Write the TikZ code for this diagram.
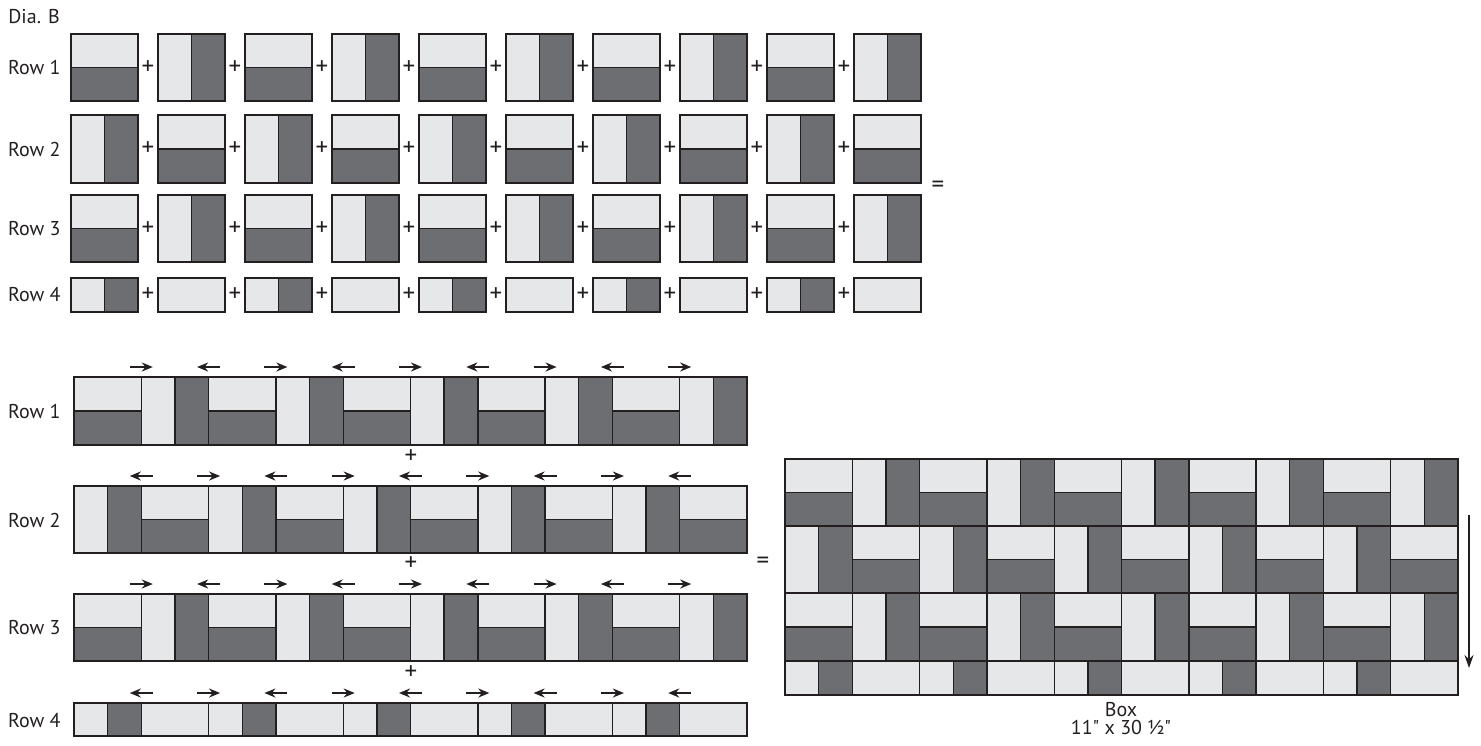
\documentclass[tikz,border=0pt]{standalone}
\usepackage{fontspec}
\newfontfamily\labelfont{PT Sans}
\usepackage{xcolor}
\usepackage{tikz}
\usetikzlibrary{arrows.meta}

\definecolor{patlight}{HTML}{E6E7E8}
\definecolor{patdark}{HTML}{6D6E71}
\definecolor{patline}{HTML}{231F20}

% x, y, width, height
\newcommand{\hblk}[4]{%
  \draw[lightsq] (#1,#2) rectangle ++(#3,#4/2);
  \draw[darksq] (#1,#2+#4/2) rectangle ++(#3,#4/2);}
\newcommand{\vblk}[4]{%
  \draw[lightsq] (#1,#2) rectangle ++(#3/2,#4);
  \draw[darksq] (#1+#3/2,#2) rectangle ++(#3/2,#4);}
\newcommand{\pblk}[4]{%
  \draw[lightsq] (#1,#2) rectangle ++(#3,#4);}
% x0, y0, step, width, height, kind (1 = rows 1/3, 2 = row 2, 3 = row 4)
\newcommand{\quiltrow}[6]{%
  \foreach \i in {0,...,9}{%
    \pgfmathsetmacro{\bx}{#1+#3*\i}%
    \ifcase#6\or
      \ifodd\i \vblk{\bx}{#2}{#4}{#5}\else \hblk{\bx}{#2}{#4}{#5}\fi
    \or
      \ifodd\i \hblk{\bx}{#2}{#4}{#5}\else \vblk{\bx}{#2}{#4}{#5}\fi
    \or
      \ifodd\i \pblk{\bx}{#2}{#4}{#5}\else \vblk{\bx}{#2}{#4}{#5}\fi
    \fi}}

\begin{document}
\begin{tikzpicture}[
  x=0.5pt, y=-0.5pt,
  lightsq/.style={fill=patlight, draw=patline, line width=0.7pt},
  darksq/.style={fill=patdark, draw=patline, line width=0.7pt},
  lbl/.style={font=\labelfont\fontsize{10}{12}\selectfont, inner sep=0pt, text=patline},
  sign/.style={font=\labelfont\fontsize{12.5}{14}\selectfont, inner sep=0pt, text=patline},
  press/.style={-{Stealth[length=5.5pt,width=4.5pt]}, line width=0.9pt, draw=patline},
  grain/.style={-{Stealth[length=6.5pt,width=4.5pt]}, line width=0.6pt, draw=patline}
]
\useasboundingbox (0,0) rectangle (1481,745);

\node[lbl, anchor=west] (dia) at (8,17) {Dia. B};

\quiltrow{71}{34}{87}{67}{67}{1}
\quiltrow{71}{115}{87}{67}{68}{2}
\quiltrow{71}{195}{87}{67}{67}{1}
\quiltrow{71}{278}{87}{67}{34}{3}

\foreach \r/\y in {1/67.5, 2/149, 3/228.5, 4/295}{
  \node[lbl, anchor=east] (toprow\r) at (61,\y) {Row \r};
  \foreach \i in {0,...,8}
    \node[sign] (plus\r\i) at (148+87*\i,\y) {+};
}
\node[sign] (eqtop) at (938,187) {=};

\quiltrow{74}{377}{67.3}{67.3}{68}{1}
\quiltrow{74}{486}{67.3}{67.3}{67}{2}
\quiltrow{74}{594}{67.3}{67.3}{67}{1}
\quiltrow{74}{703}{67.3}{67.3}{33}{3}

\foreach \r/\y in {1/411, 2/520, 3/628, 4/720}
  \node[lbl, anchor=east] (striprow\r) at (61,\y) {Row \r};
\foreach \n/\y in {1/457, 2/564, 3/673}
  \node[sign] (stripplus\n) at (411,\y) {+};
\node[sign] (eqstrip) at (763,563) {=};

\foreach \t/\d in {367/1, 476/-1, 584/1, 693/-1}
  \foreach \k in {1,...,9}{
    \pgfmathsetmacro{\ax}{74+67.3*\k}
    \pgfmathsetmacro{\dir}{\d*(2*mod(\k,2)-1)}
    \draw[press] (\ax-11.5*\dir,\t) -- (\ax+11.5*\dir,\t);
  }

\quiltrow{785}{459}{67.3}{67.3}{67}{1}
\quiltrow{785}{526}{67.3}{67.3}{67}{2}
\quiltrow{785}{593}{67.3}{67.3}{68}{1}
\quiltrow{785}{661}{67.3}{67.3}{34}{3}

\coordinate (grainstart) at (1469,515);
\coordinate (grainend) at (1469,668);
\draw[grain] (grainstart) -- (grainend);

\node[lbl] (boxname) at (1121,710) {Box};
\node[lbl] (boxsize) at (1121,727) {11" x 30 ½"};
\end{tikzpicture}
\end{document}
